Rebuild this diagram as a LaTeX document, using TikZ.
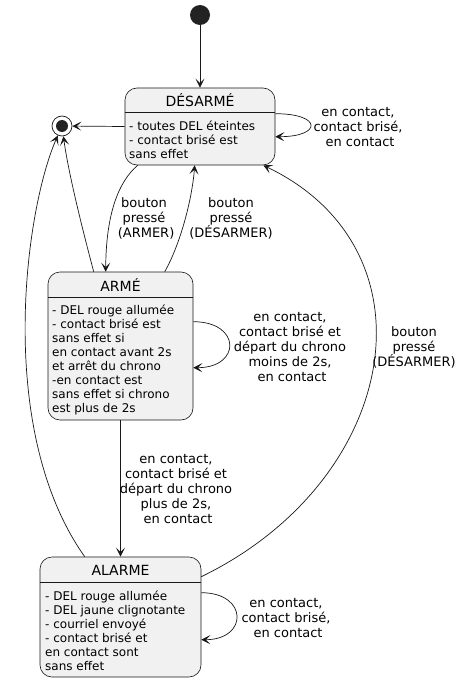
\documentclass[tikz,border=0pt]{standalone}
\usepackage{fontspec}
\setmainfont{DejaVu Sans}
\usetikzlibrary{arrows.meta,calc}
\definecolor{boxfill}{HTML}{F1F1F1}
\definecolor{boxline}{HTML}{181818}
\definecolor{dotc}{HTML}{222222}
\begin{document}
\begin{tikzpicture}[x=1pt,y=-1pt,
  statebox/.style={draw=boxline,fill=boxfill,rounded corners=12pt,line width=0.6pt,inner sep=0pt},
  titletext/.style={font=\fontsize{14}{16}\selectfont,inner sep=0pt},
  bodytext/.style={font=\fontsize{12}{14}\selectfont,align=left,anchor=north west,inner sep=0pt},
  lbl/.style={font=\fontsize{13}{15}\selectfont,align=center,inner sep=0pt},
  conn/.style={draw=boxline,line width=0.7pt,-{Stealth[length=9pt,width=9pt,inset=4.5pt]}},
  plain/.style={draw=boxline,line width=0.6pt}]
\useasboundingbox (0,0) rectangle (462,682);

% initial and final
\node[circle,fill=dotc,minimum size=20pt,inner sep=0pt] (init) at (200,15) {};
\node[circle,draw=boxline,fill=white,line width=0.7pt,minimum size=20pt,inner sep=0pt] (fin) at (62,126) {};
\node[circle,fill=dotc,minimum size=12pt,inner sep=0pt] (finin) at (fin.center) {};

% states
\node[statebox,minimum width=150pt,minimum height=77pt] (d) at (200,126.5) {};
\node[titletext] (dt) at (200,100) {DÉSARMÉ};
\draw[plain] ($(d.north west)+(0,25)$) -- ($(d.north east)+(0,25)$);
\node[bodytext] (db) at (129,121) {- toutes DEL éteintes\\- contact brisé est\\sans effet};

\node[statebox,minimum width=145pt,minimum height=148pt] (a) at (120.5,346) {};
\node[titletext] (at) at (120.5,285) {ARMÉ};
\draw[plain] ($(a.north west)+(0,26)$) -- ($(a.north east)+(0,26)$);
\node[bodytext] (ab) at (52,305) {- DEL rouge allumée\\- contact brisé est\\sans effet si\\en contact avant 2s\\et arrêt du chrono\\-en contact est\\sans effet si chrono\\est plus de 2s};

\node[statebox,minimum width=161pt,minimum height=120pt] (al) at (120.5,617) {};
\node[titletext] (alt) at (120.5,570) {ALARME};
\draw[plain] ($(al.north west)+(0,26)$) -- ($(al.north east)+(0,26)$);
\node[bodytext] (alb) at (45,591) {- DEL rouge allumée\\- DEL jaune clignotante\\- courriel envoyé\\- contact brisé et\\en contact sont\\sans effet};

% connectors
\draw[conn] (init) -- (d);
\draw[conn] (d.west) -- (fin);
\draw[conn] ($(d.north east)+(0,26)$) .. controls +(47,0) and +(47,0) .. ($(d.north east)+(0,49)$);
\draw[conn] ($(d.south west)+(13,0)$) .. controls (118,182) and (106,215) .. ($(a.north west)+(58,0)$);
\draw[conn] ($(a.north west)+(117,0)$) .. controls (180,245) and (192,200) .. ($(d.south west)+(70,0)$);
\draw[conn] ($(a.north west)+(46,0)$) .. controls (80,220) and (68,170) .. (fin);
\draw[conn] ($(al.north west)+(45,0)$) .. controls (-5,430) and (25,210) .. (fin);
\draw[conn] ($(al.north east)+(0,20)$) .. controls (400,480) and (440,250) .. ($(d.south east)+(-12,0)$);
\draw[conn] ($(a.north east)+(0,50)$) .. controls +(48,0) and +(48,0) .. ($(a.north east)+(0,96)$);
\draw[conn] (a.south) -- (al.north);
\draw[conn] ($(al.north east)+(0,36)$) .. controls +(47,0) and +(47,0) .. ($(al.north east)+(0,83)$);

% labels
\node[lbl] (l1) at (358,127) {en contact,\\contact brisé,\\\ en contact};
\node[lbl] (l2) at (144,218) {bouton\\pressé\\\ (ARMER)};
\node[lbl] (l3) at (231,218) {bouton\\pressé\\(DÉSARMER)};
\node[lbl] (l4) at (290,347) {en contact,\\contact brisé et\\départ du chrono\\moins de 2s,\\\ en contact};
\node[lbl] (l5) at (414,347) {bouton\\pressé\\(DÉSARMER)};
\node[lbl] (l6) at (176,489) {en contact,\\contact brisé et\\départ du chrono\\plus de 2s,\\\ en contact};
\node[lbl] (l7) at (286,618) {en contact,\\contact brisé,\\\ en contact};
\end{tikzpicture}
\end{document}
